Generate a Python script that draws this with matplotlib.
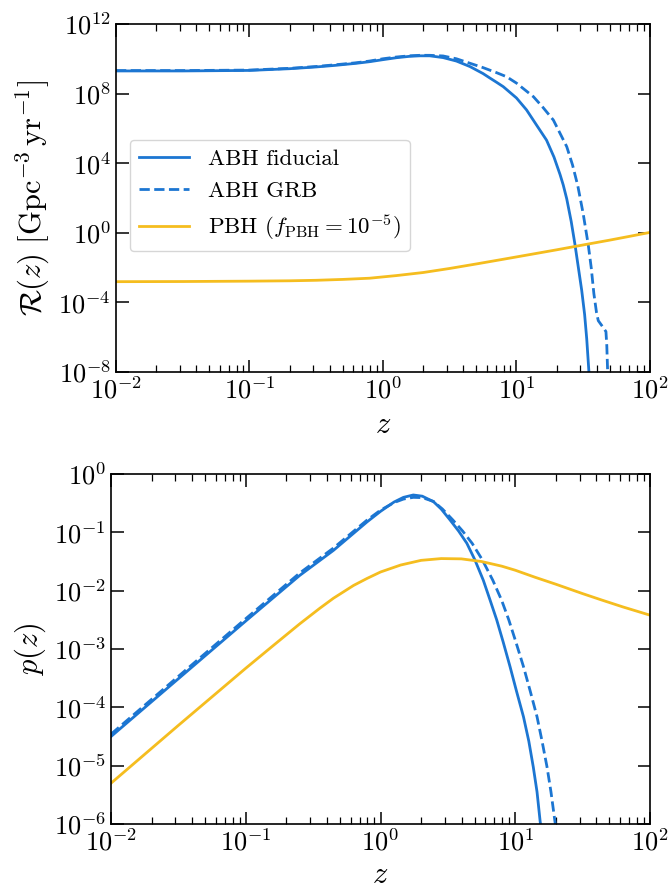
import matplotlib
matplotlib.use('Agg')
import matplotlib.pyplot as plt
from matplotlib.ticker import NullLocator, LogLocator

# Fonte estilo LaTeX (Computer Modern)
plt.rcParams['font.family'] = 'serif'
plt.rcParams['font.serif'] = ['cmr10']
plt.rcParams['mathtext.fontset'] = 'cm'
plt.rcParams['axes.formatter.use_mathtext'] = True
plt.rcParams['axes.unicode_minus'] = False

azul = '#1c76d2'
amarelo = '#f5bd1f'

# --- painel superior: taxa R(z) ---
z_fid_R = [0.01, 0.0316, 0.1, 0.2, 0.316, 0.437, 0.631, 0.794, 1.0, 1.26, 1.58, 1.89,
           2.24, 2.82, 3.55, 4.49, 5.62, 6.31, 7.08, 7.96, 10.0, 11.9, 14.1, 16.8, 19.1,
           21.2, 22.4, 23.8, 25.7, 27.4, 30.8, 32.4, 33.6, 34.9]
R_fid = [2.0e9, 2.0e9, 2.14e9, 2.69e9, 3.39e9, 4.17e9, 5.5e9, 6.8e9, 8.9e9, 1.15e10,
         1.38e10, 1.48e10, 1.48e10, 1.17e10, 7.4e9, 3.55e9, 1.41e9, 7.9e8, 4.5e8, 2.5e8,
         5.6e7, 1.15e7, 1.6e6, 2.1e5, 2.24e4, 2.24e3, 562.0, 89.0, 4.5, 0.224,
         5.0e-4, 2.0e-5, 7.9e-7, 1.0e-8]

z_grb_R = [0.01, 0.0316, 0.1, 0.2, 0.316, 0.437, 0.631, 0.794, 1.0, 1.26, 1.58, 1.89,
           2.24, 2.82, 3.55, 4.49, 5.62, 7.08, 8.43, 10.0, 13.4, 15.8, 18.9, 23.8, 26.3,
           28.8, 31.6, 34.5, 36.3, 38.0, 39.8, 41.0, 43.7, 46.8, 47.5, 48.2]
R_grb = [2.1e9, 2.1e9, 2.24e9, 2.82e9, 3.6e9, 4.5e9, 5.9e9, 7.4e9, 1.0e10, 1.26e10,
         1.48e10, 1.58e10, 1.58e10, 1.45e10, 1.0e10, 5.5e9, 3.1e9, 1.6e9, 9.3e8, 4.0e8,
         6.6e7, 1.6e7, 3.0e6, 8.9e4, 7.9e3, 500.0, 12.6, 0.2, 1.0e-2, 3.2e-4, 2.5e-5,
         8.9e-6, 4.5e-6, 2.1e-6, 3.2e-7, 1.0e-8]

z_pbh_R = [0.01, 0.0316, 0.1, 0.2, 0.316, 0.501, 0.794, 1.26, 2.0, 3.16, 5.01, 7.94,
           12.6, 20.0, 31.6, 50.1, 70.8, 100.0]
R_pbh = [1.55e-3, 1.58e-3, 1.66e-3, 1.74e-3, 1.86e-3, 2.09e-3, 2.45e-3, 3.47e-3,
         5.2e-3, 8.9e-3, 1.62e-2, 3.0e-2, 5.6e-2, 0.105, 0.2, 0.38, 0.63, 1.05]

# --- painel inferior: distribuição p(z) ---
z_fid_p = [0.01, 0.0316, 0.1, 0.251, 0.447, 0.794, 1.0, 1.26, 1.48, 1.75, 2.04, 2.47,
           2.82, 3.28, 3.80, 4.37, 5.01, 5.79, 6.50, 7.28, 8.13, 9.14, 10.2, 11.5, 12.6,
           13.6, 14.5, 15.3, 15.5]
p_fid = [3.16e-5, 3.09e-4, 3.02e-3, 1.82e-2, 4.9e-2, 0.151, 0.229, 0.331, 0.398, 0.437,
         0.417, 0.336, 0.251, 0.163, 0.105, 6.5e-2, 3.39e-2, 1.51e-2, 6.9e-3, 3.16e-3,
         1.32e-3, 5.0e-4, 1.91e-4, 6.9e-5, 2.63e-5, 9.5e-6, 3.55e-6, 1.1e-6, 8.9e-7]

z_grb_p = [0.01, 0.0316, 0.1, 0.251, 0.447, 0.794, 1.0, 1.26, 1.48, 1.75, 2.04, 2.47,
           2.88, 3.44, 4.07, 4.79, 5.69, 6.81, 7.91, 8.95, 10.1, 11.5, 12.9, 14.5, 15.8,
           17.2, 18.4, 19.7, 20.0]
p_grb = [3.47e-5, 3.39e-4, 3.31e-3, 2.0e-2, 5.37e-2, 0.162, 0.240, 0.324, 0.372, 0.398,
         0.394, 0.339, 0.251, 0.163, 0.105, 6.46e-2, 3.39e-2, 1.51e-2, 6.9e-3, 3.16e-3,
         1.32e-3, 5.0e-4, 1.91e-4, 6.9e-5, 2.63e-5, 9.5e-6, 3.55e-6, 1.1e-6, 8.9e-7]

z_pbh_p = [0.01, 0.0316, 0.1, 0.158, 0.251, 0.355, 0.447, 0.631, 0.794, 1.0, 1.41, 2.0,
           2.82, 3.98, 5.62, 7.94, 10.0, 14.0, 20.0, 31.6, 43.9, 63.1, 100.0]
p_pbh = [5.0e-6, 4.9e-5, 4.68e-4, 1.12e-3, 2.69e-3, 5.01e-3, 7.41e-3, 1.23e-2, 1.62e-2,
         2.09e-2, 2.75e-2, 3.31e-2, 3.55e-2, 3.51e-2, 3.16e-2, 2.63e-2, 2.24e-2, 1.70e-2,
         1.29e-2, 8.9e-3, 6.9e-3, 5.25e-3, 3.8e-3]

fig = plt.figure(figsize=(6.7, 8.88), dpi=100)
ax1 = fig.add_axes([0.1731, 0.5811, 0.797, 0.3919])
ax2 = fig.add_axes([0.1657, 0.0721, 0.8045, 0.3941])

ax1.plot(z_fid_R, R_fid, color=azul, lw=2, label='ABH fiducial')
ax1.plot(z_grb_R, R_grb, color=azul, lw=2, ls='--', label='ABH GRB')
ax1.plot(z_pbh_R, R_pbh, color=amarelo, lw=2, label=r'PBH ($f_{\rm PBH} = 10^{-5}$)')

ax2.plot(z_fid_p, p_fid, color=azul, lw=2)
ax2.plot(z_grb_p, p_grb, color=azul, lw=2, ls='--')
ax2.plot(z_pbh_p, p_pbh, color=amarelo, lw=2)

for ax in (ax1, ax2):
    ax.set_xscale('log')
    ax.set_yscale('log')
    ax.set_xlim(1e-2, 1e2)
    ax.xaxis.set_major_locator(LogLocator(base=10, numticks=10))
    ax.xaxis.set_minor_locator(LogLocator(base=10, subs=range(2, 10), numticks=20))
    ax.tick_params(which='both', direction='in', top=True, right=True, labelsize=19)
    ax.tick_params(which='major', length=9, width=1.1)
    ax.tick_params(which='minor', length=5, width=0.9)
    for s in ax.spines.values():
        s.set_linewidth(1.2)
    ax.set_xlabel(r'$z$', fontsize=22)

ax1.xaxis.set_label_coords(0.5, -0.115)
ax2.xaxis.set_label_coords(0.5, -0.108)

ax1.set_ylim(1e-8, 1e12)
ax1.set_yticks([1e-8, 1e-4, 1e0, 1e4, 1e8, 1e12])
ax1.yaxis.set_minor_locator(NullLocator())
ax1.set_ylabel(r'$\mathcal{R}(z)\ [\mathrm{Gpc}^{-3}\,\mathrm{yr}^{-1}]$', fontsize=22)
ax1.yaxis.set_label_coords(-0.12, 0.5)

ax2.set_ylim(1e-6, 1e0)
ax2.set_yticks([1e-6, 1e-5, 1e-4, 1e-3, 1e-2, 1e-1, 1e0])
ax2.yaxis.set_minor_locator(NullLocator())
ax2.set_ylabel(r'$p(z)$', fontsize=22)
ax2.yaxis.set_label_coords(-0.117, 0.5)

ax1.legend(loc='upper left', bbox_to_anchor=(0.026, 0.667), fontsize=16.5,
           handlelength=2.2, borderaxespad=0.0)

fig.savefig('out.png', dpi=100)
